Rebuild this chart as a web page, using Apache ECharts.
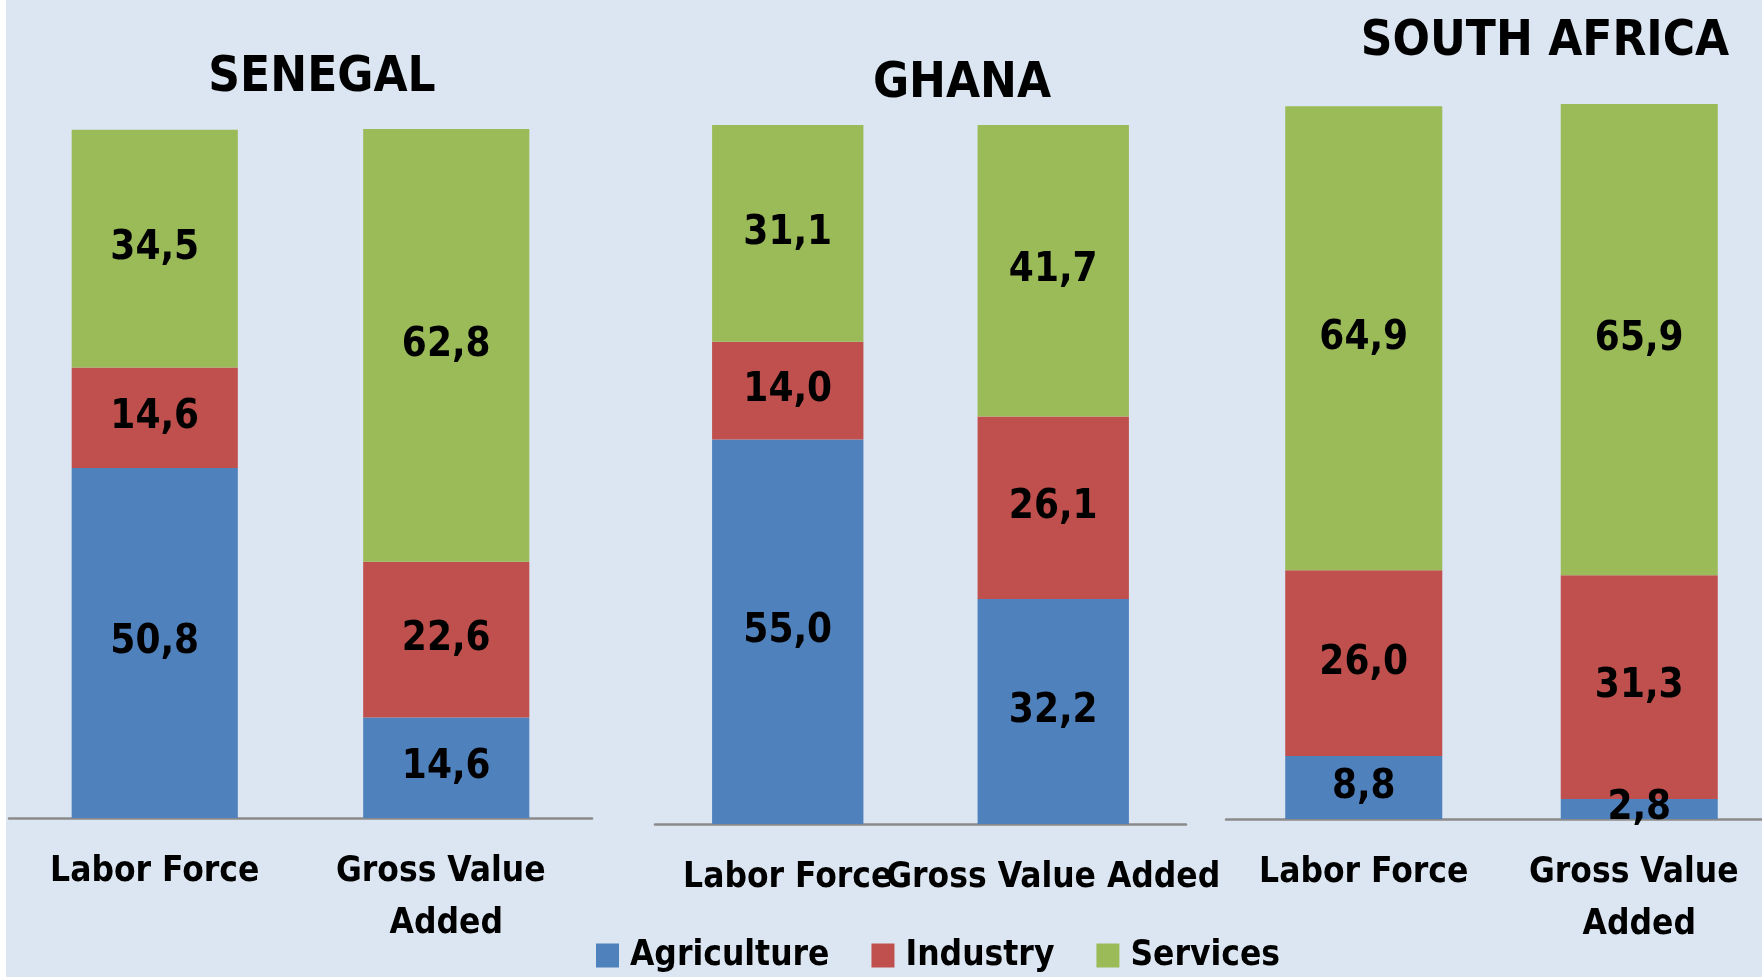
<!DOCTYPE html>
<html>
<head>
<meta charset="utf-8">
<title>Labor force vs gross value added</title>
<script src="https://cdn.jsdelivr.net/npm/echarts@6/dist/echarts.min.js"></script>
<style>
  html, body { margin: 0; padding: 0; background: #ffffff; }
  #barChart { width: 1762px; height: 977px; }
</style>
</head>
<body>
<div id="barChart"></div>
<script>
// chart data
const countries = ['SENEGAL', 'GHANA', 'SOUTH AFRICA'];
const measures = ['Labor Force', 'Gross Value Added'];
const sectors = ['Agriculture', 'Industry', 'Services'];
const agriculture = [[50.8, 14.6], [55.0, 32.2], [8.8, 2.8]];
const industry = [[14.6, 22.6], [14.0, 26.1], [26.0, 31.3]];
const services = [[34.5, 62.8], [31.1, 41.7], [64.9, 65.9]];

const font = "'Liberation Sans Narrow', 'Arial Narrow', 'DejaVu Sans Condensed', sans-serif";
const colors = ['#4F81BD', '#C0504D', '#9BBB59'];

// one grid per country
const grids = [
  { left: 9, top: 129, width: 583, height: 689 },
  { left: 655, top: 125, width: 531, height: 699 },
  { left: 1226, top: 104, width: 551, height: 715 },
];
const titlePos = [[322, 78], [962, 84], [1545, 42]];
// only the middle panel keeps its labels on one line
const labelWrap = [true, false, true];

const sectorData = [agriculture, industry, services];

const drawCharts = () => {
  const myCharts = echarts.init(document.getElementById('barChart'));

  const xAxis = [];
  const yAxis = [];
  const series = [];
  const graphic = [
    // thin white strip on the left edge
    { type: 'rect', left: 0, top: 0, shape: { width: 6, height: 977 }, style: { fill: '#ffffff' }, z: 100 },
  ];

  countries.forEach((country, i) => {
    const label = {
      show: true,
      color: '#000',
      fontFamily: font,
      fontWeight: 'bold',
      fontSize: 35,
      margin: 28,
      lineHeight: 52,
      interval: 0,
    };
    if (labelWrap[i]) {
      label.width = 250;
      label.overflow = 'break';
    }
    xAxis.push({
      type: 'category',
      gridIndex: i,
      data: measures,
      axisLine: { show: true, lineStyle: { color: '#8a8a8a', width: 2.5 } },
      axisTick: { show: false },
      axisLabel: label,
    });
    yAxis.push({
      type: 'value',
      gridIndex: i,
      min: 0,
      max: 100,
      show: false,
      splitLine: { show: false },
    });
    sectors.forEach((name, s) => {
      series.push({
        name,
        type: 'bar',
        stack: 'total' + i,
        xAxisIndex: i,
        yAxisIndex: i,
        barWidth: '57%',
        itemStyle: { color: colors[s] },
        label: {
          show: true,
          position: 'inside',
          color: '#000',
          fontFamily: font,
          fontWeight: 'bold',
          fontSize: 40,
          formatter: (p) => p.value.toFixed(1).replace('.', ','),
        },
        data: sectorData[s][i],
      });
    });
    graphic.push({
      type: 'text',
      x: titlePos[i][0],
      y: titlePos[i][1],
      style: {
        text: country,
        align: 'center',
        verticalAlign: 'middle',
        fill: '#000',
        fontFamily: font,
        fontWeight: 'bold',
        fontSize: 49,
      },
    });
  });

  myCharts.setOption({
    backgroundColor: '#DCE6F2',
    animation: false,
    grid: grids.map((g) => ({ ...g, containLabel: false, outerBoundsMode: 'none' })),
    legend: {
      data: sectors,
      left: 591,
      top: 933,
      icon: 'rect',
      itemWidth: 23,
      itemHeight: 24,
      itemGap: 42,
      textStyle: {
        color: '#000',
        fontFamily: font,
        fontWeight: 'bold',
        fontSize: 35,
        padding: [0, 0, 0, 6],
      },
    },
    xAxis,
    yAxis,
    series,
    graphic,
  });
  window.onresize = function () {
    myCharts.resize();
  };
};

drawCharts();
</script>
</body>
</html>
